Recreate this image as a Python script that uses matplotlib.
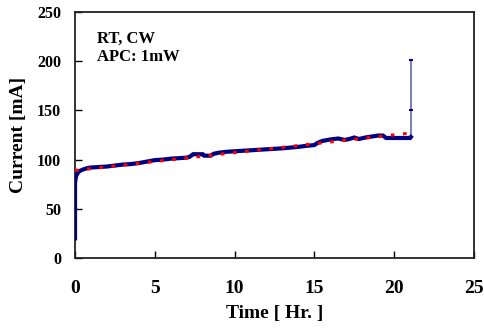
import matplotlib
matplotlib.use("Agg")
import matplotlib.pyplot as plt

# Measured current (blue)
time_hr = [0.0, 0.0, 0.02, 0.05, 0.1, 0.2, 0.3, 0.5, 0.8, 1.0, 1.5, 2.0, 2.5, 3.0, 3.5,
           4.0, 4.5, 5.0, 5.5, 6.0, 6.5, 7.0, 7.2, 7.4, 7.6, 8.0, 8.1, 8.5, 8.7, 9.0,
           9.5, 10.0, 11.0, 12.0, 13.0, 14.0, 14.5, 15.0, 15.2, 15.5, 16.0, 16.5,
           16.9, 17.2, 17.5, 17.8, 18.2, 18.6, 19.0, 19.3, 19.5, 20.0, 20.5, 21.0, 21.05]
current_ma = [20, 76, 79, 82, 84.5, 87, 88.5, 90, 91.5, 92, 92.5, 93, 94, 95, 95.5,
              96.5, 98, 99.5, 100, 101, 101.5, 102, 103, 105.5, 105.5, 105.5, 104, 104, 106, 107,
              108, 108.5, 109.5, 110.5, 111.5, 113, 114, 114.8, 117, 119, 120.5, 121.5,
              120, 121, 122.5, 121, 122.5, 123.5, 124.5, 124.5, 122, 122, 122, 122, 123]

# Final spike
spike_t = [21.05, 21.05, 21.05]
spike_v = [123, 150, 201]

# Linear fit trend (red dotted)
fit_t = [0, 21]
fit_v = [89, 127]

x_ticks = [0, 5, 10, 15, 20, 25]
y_ticks = [0, 50, 100, 150, 200, 250]

plt.rcParams['font.family'] = ['Liberation Serif', 'DejaVu Serif']
plt.rcParams['font.weight'] = 'bold'

fig = plt.figure(figsize=(4.84, 3.31), dpi=100)
ax = fig.add_axes([0.155, 0.2205, 0.824, 0.743])

ax.plot(time_hr, current_ma, color='#000080', lw=3.0, solid_joinstyle='miter', zorder=3)
ax.plot(spike_t, spike_v, color='#000080', lw=1.2, alpha=0.6, zorder=3)
ax.plot(spike_t, spike_v, ls='none', marker='_', color='#000080', ms=3, mew=1.5, zorder=3)
ax.plot(fit_t, fit_v, color='#ff0000', lw=2.2, ls=(0, (1.2, 2.8)), zorder=4)

ax.set_xlim(0, 25)
ax.set_ylim(0, 250)
ax.set_xticks(x_ticks)
ax.set_yticks(y_ticks)
ax.tick_params(axis='x', direction='in', length=5, width=1, pad=16, labelsize=14)
ax.tick_params(axis='y', direction='in', length=5, width=1, pad=10, labelsize=11.5)
for lbl in ax.get_xticklabels() + ax.get_yticklabels():
    lbl.set_fontweight('bold')
for s in ax.spines.values():
    s.set_linewidth(1.3)
    s.set_color('#222222')

ax.set_xlabel('Time [ Hr. ]', fontsize=14, fontweight='bold')
ax.set_ylabel('Current [mA]', fontsize=14, fontweight='bold')
ax.xaxis.set_label_coords(0.5, -0.19)
ax.yaxis.set_label_coords(-0.12, 0.5)

ax.text(0.055, 0.893, 'RT, CW', transform=ax.transAxes, fontsize=12, fontweight='bold',
        va='center', ha='left')
ax.text(0.055, 0.817, 'APC: 1mW', transform=ax.transAxes, fontsize=12, fontweight='bold',
        va='center', ha='left')

fig.savefig('out.png', dpi=100)
